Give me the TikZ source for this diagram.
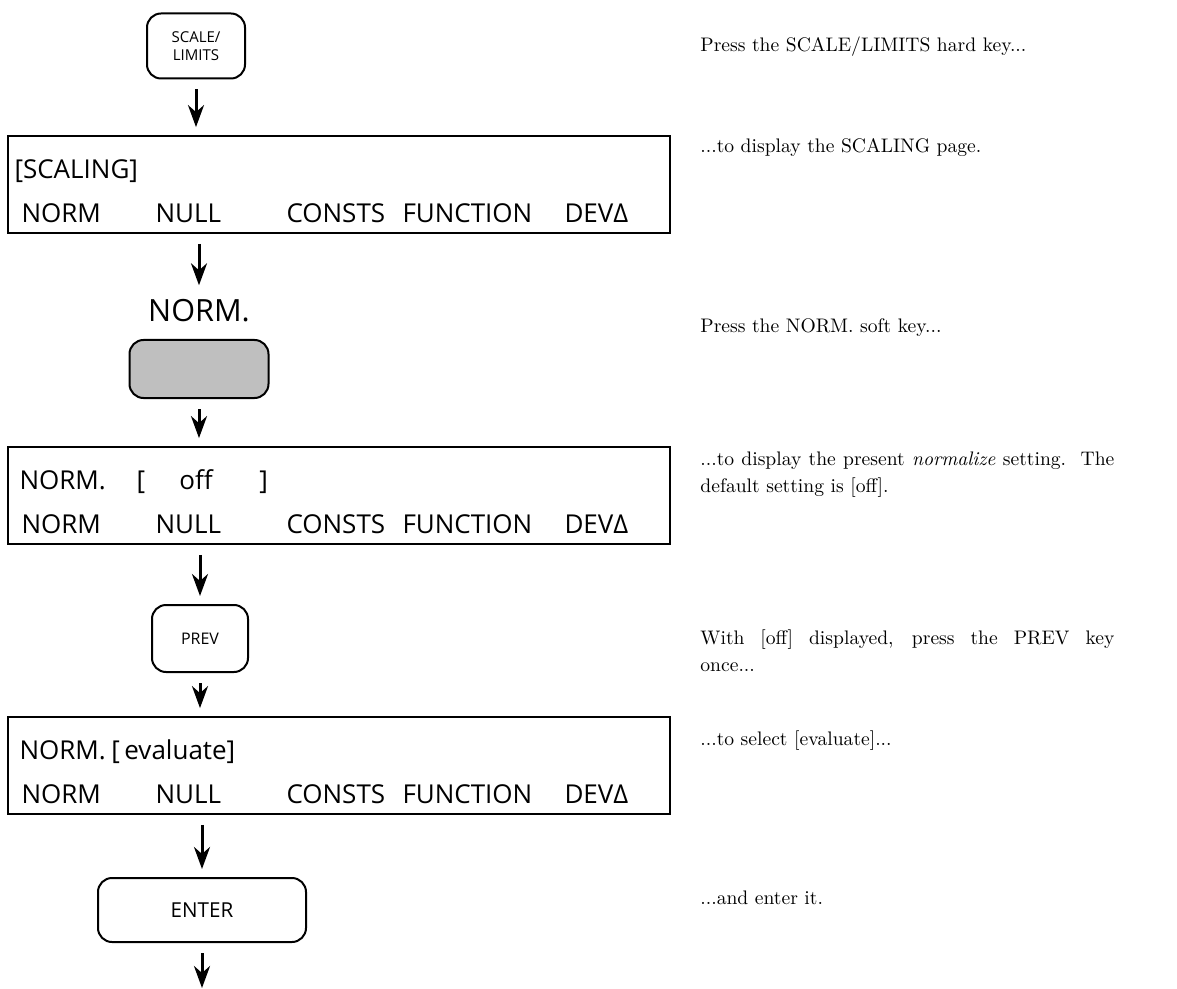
\documentclass[tikz,border=0pt]{standalone}
\usepackage{fontspec}
\newfontfamily\keyfont{Open Sans}
\usetikzlibrary{arrows.meta, positioning, calc}

\tikzset{
  hardkey/.style={rectangle, rounded corners=7pt, draw=black, line width=1pt, align=center, inner sep=0pt, font=\keyfont},
  softkey/.style={hardkey, fill=black!25},
  screen/.style={rectangle, draw=black, line width=0.9pt, minimum width=331pt, minimum height=48.5pt, inner sep=0pt},
  scrtext/.style={anchor=base west, inner sep=0pt, font=\keyfont\fontsize{13}{15}\selectfont},
  note/.style={anchor=north west, inner sep=0pt, align=left, font=\fontsize{9.8}{13.5}\selectfont},
  flow/.style={line width=1.5pt, -{Stealth[length=11pt, width=8pt, inset=3.5pt]}, shorten <=5pt, shorten >=4pt}
}

% soft key labels along the bottom of a screen
\newcommand\softrow[1]{%
  \foreach \dx/\lbl [count=\i] in {14/NORM, 148/NULL, 279/CONSTS, 395/FUNCTION, 557/DEVΔ}
    \node (#1-sk\i) [scrtext] at ($(#1.north west)+(\dx,87)$) {\lbl};%
}

\begin{document}
\begin{tikzpicture}[x=0.5pt, y=-0.5pt]
\useasboundingbox (0,0) rectangle (1177,989);

% Keys and screens
\node (scalekey) [hardkey, minimum width=49pt, minimum height=32.5pt, font=\keyfont\fontsize{7.5}{9}\selectfont] at (196,46) {SCALE/\\LIMITS};
\node (scaling) [screen] at (339,184.5) {};
\node (normlbl) [inner sep=0pt, font=\keyfont\fontsize{15.3}{18}\selectfont] at (199,311) {NORM.};
\node (normkey) [softkey, minimum width=69.5pt, minimum height=29pt] at (199,369) {};
\node (normoff) [screen] at (339,495.5) {};
\node (prevkey) [hardkey, minimum width=48pt, minimum height=33.5pt, font=\keyfont\fontsize{8}{9}\selectfont] at (200,638.5) {PREV};
\node (normeval) [screen] at (339,765.5) {};
\node (enterkey) [hardkey, minimum width=104pt, minimum height=32pt, font=\keyfont\fontsize{10.3}{12}\selectfont] at (202,910) {ENTER};
\coordinate (out) at (202,988);

% Screen texts
\node (scalingtop) [scrtext] at ($(scaling.north west)+(7,43)$) {[SCALING]};
\softrow{scaling}
\node (normofftop) [scrtext] at ($(normoff.north west)+(12,43)$) {\makebox[58.5pt][l]{NORM.}\makebox[21.5pt][l]{[}\makebox[40pt][l]{off}]};
\softrow{normoff}
\node (normevaltop) [scrtext] at ($(normeval.north west)+(12,43)$) {\makebox[46pt][l]{NORM.}[\,evaluate]};
\softrow{normeval}

% Arrows
\draw [flow] (scalekey) -- (scalekey |- scaling.north);
\draw [flow, shorten >=7pt] (normlbl |- scaling.south) -- (normlbl);
\draw [flow] (normkey) -- (normkey |- normoff.north);
\draw [flow] (prevkey |- normoff.south) -- (prevkey);
\draw [flow] (prevkey) -- (prevkey |- normeval.north);
\draw [flow] (enterkey |- normeval.south) -- (enterkey);
\draw [flow, shorten >=0pt] (enterkey) -- (out);

% Notes on the right
\node (note1) [note] at (700,36) {Press the SCALE/LIMITS hard key...};
\node (note2) [note] at (700,138) {...to display the SCALING page.};
\node (note3) [note] at (700,318) {Press the NORM. soft key...};
\node (note4) [note] at (700,451) {\makebox[207pt][s]{...to display the present \emph{normalize} setting.\ \ The}\\default setting is [off].};
\node (note5) [note] at (700,629) {\makebox[207pt][s]{With [off] displayed, press the PREV key}\\once...};
\node (note6) [note] at (700,730) {...to select [evaluate]...};
\node (note7) [note] at (700,890) {...and enter it.};

\end{tikzpicture}
\end{document}
